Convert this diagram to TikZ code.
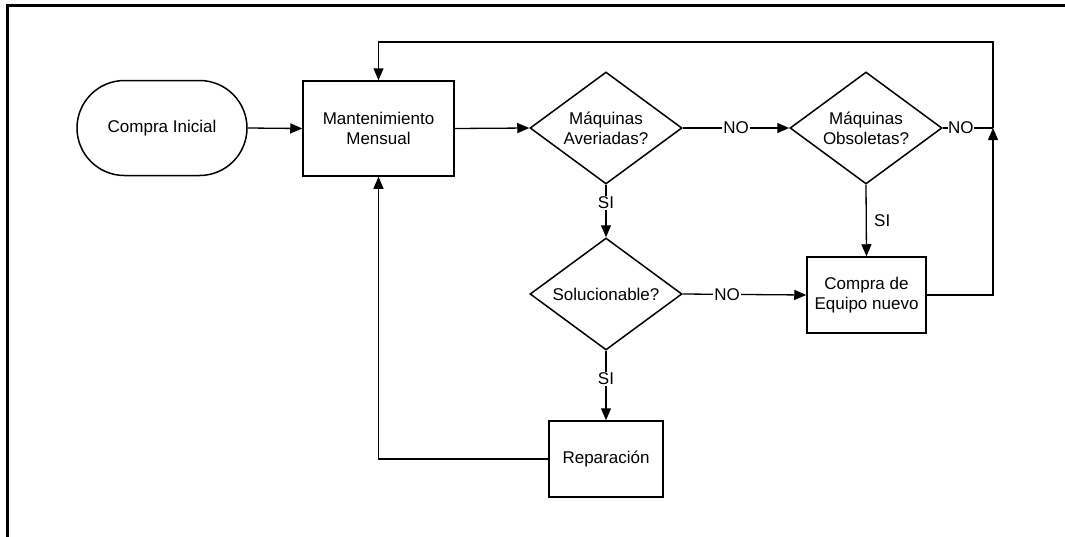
\documentclass[tikz,border=0pt]{standalone}
\usepackage{fontspec}
\setmainfont{Liberation Sans}
\usetikzlibrary{shapes.geometric,shapes.misc,arrows.meta}
\begin{document}
\begin{tikzpicture}[x=1pt,y=-1pt,
  every node/.style={font=\fontsize{17}{20}\selectfont},
  box/.style={draw,line width=1.5pt,rectangle,inner sep=0pt,align=center},
  decision/.style={draw,line width=1.5pt,diamond,aspect=1.36,inner sep=0pt,align=center,minimum width=152pt,minimum height=112pt},
  startstop/.style={draw,line width=1.5pt,rounded rectangle,inner sep=0pt,minimum width=170pt,minimum height=95pt},
  conn/.style={line width=1.3pt},
  arr/.style={conn,-{Triangle[length=12pt,width=10pt]}},
  lbl/.style={fill=white,inner sep=1pt}]
\useasboundingbox (0,0) rectangle (1065,536);
\begin{scope}
\clip (0,0) rectangle (1065,536);
\draw[line width=3pt] (7,545) -- (7,5) -- (1075,5);
\end{scope}
\node[startstop] (ci) at (162,128) {Compra Inicial};
\node[box,minimum width=151pt,minimum height=95pt] (mm) at (378.5,128.5) {Mantenimiento\\Mensual};
\node[decision] (ma) at (606,128) {Máquinas\\Averiadas?};
\node[decision] (mo) at (866,128) {Máquinas\\Obsoletas?};
\node[decision] (so) at (606,294) {Solucionable?};
\node[box,minimum width=114pt,minimum height=76pt] (re) at (606,459) {Reparación};
\node[box,minimum width=119pt,minimum height=76pt] (ce) at (866.5,295) {Compra de\\Equipo nuevo};
\coordinate (j) at (993,128);
\coordinate (tr) at (993,42);
\coordinate (tl) at (378.5,42);
\coordinate (ce1) at (993,295);
\coordinate (rl) at (378.5,459);
\draw[arr] (ci.east) -- (mm.west);
\draw[arr] (mm.east) -- (ma.west);
\draw[arr] (ma.east) -- node[lbl,pos=0.5] {NO} (mo.west);
\draw[arr] (ma.south) -- node[lbl,pos=0.34] {SI} (so.north);
\draw[arr] (so.east) -- node[lbl,pos=0.36] {NO} (ce.west);
\draw[arr] (so.south) -- node[lbl,pos=0.4] {SI} (re.north);
\draw[arr] (mo.south) -- node[right=4pt] {SI} (ce.north);
\draw[conn] (mo.east) -- node[lbl,inner sep=0.5pt,pos=0.36] {NO} (j);
\draw[arr] (ce.east) -- (ce1) -- (j);
\draw[arr] (j) -- (tr) -- (tl) -- (mm.north);
\draw[arr] (re.west) -- (rl) -- (mm.south);
\end{tikzpicture}
\end{document}
